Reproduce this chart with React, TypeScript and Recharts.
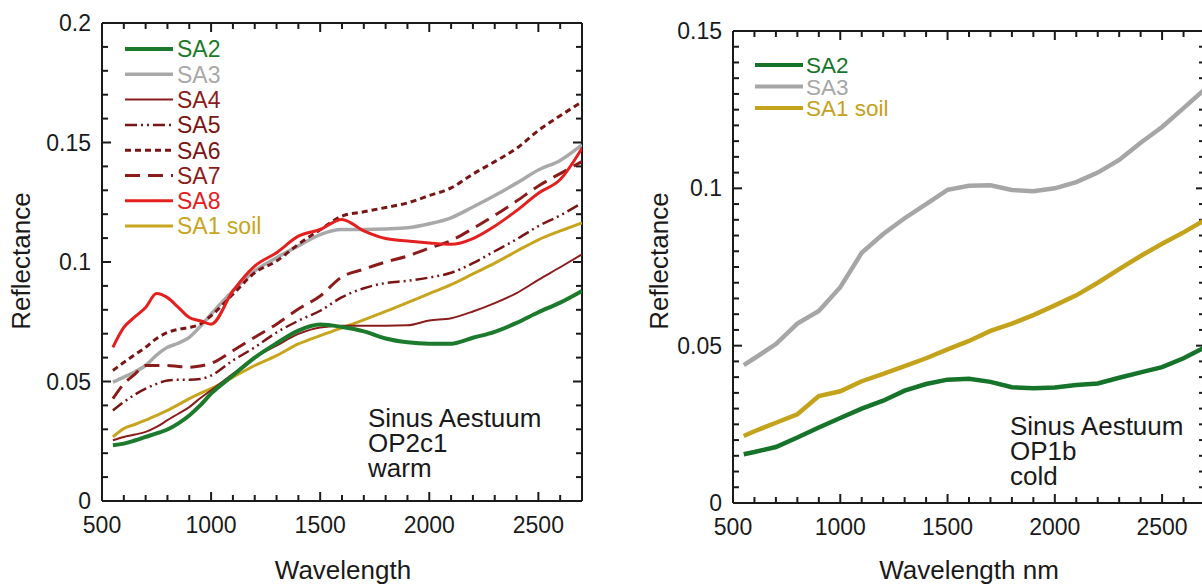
import React from 'react';
import { LineChart, Line, XAxis, YAxis, ReferenceLine } from 'recharts';

// ---------- left panel: Sinus Aestuum OP2c1 warm ----------
const wlWarm = [550, 600, 650, 700, 750, 800, 850, 900, 950, 1000, 1100, 1200, 1300, 1400, 1500, 1600, 1700, 1800, 1900, 2000, 2100, 2200, 2300, 2400, 2500, 2600, 2700];
const sa2Warm = [0.0233, 0.024, 0.0253, 0.0268, 0.0283, 0.0299, 0.0325, 0.0358, 0.040, 0.0449, 0.0525, 0.060, 0.066, 0.0713, 0.0738, 0.0728, 0.071, 0.068, 0.0664, 0.0658, 0.0658, 0.0683, 0.0708, 0.0745, 0.079, 0.083, 0.0879];
const sa3Warm = [0.0497, 0.0518, 0.054, 0.0567, 0.061, 0.0643, 0.066, 0.0685, 0.073, 0.0782, 0.0879, 0.0963, 0.1018, 0.1067, 0.1115, 0.1136, 0.1136, 0.1138, 0.1143, 0.116, 0.1185, 0.123, 0.1278, 0.133, 0.1385, 0.1425, 0.149];
const sa4Warm = [0.0254, 0.0268, 0.0278, 0.0289, 0.031, 0.0338, 0.0365, 0.0393, 0.043, 0.0463, 0.0532, 0.0601, 0.065, 0.0699, 0.0726, 0.0733, 0.0733, 0.0733, 0.0735, 0.0755, 0.0765, 0.0793, 0.0828, 0.087, 0.0925, 0.0978, 0.1032];
const sa5Warm = [0.0379, 0.0414, 0.0445, 0.047, 0.049, 0.0504, 0.0507, 0.0507, 0.051, 0.0525, 0.0588, 0.0643, 0.0705, 0.0754, 0.0796, 0.0853, 0.089, 0.0912, 0.0921, 0.0935, 0.0955, 0.0995, 0.1045, 0.1095, 0.115, 0.1195, 0.1247];
const sa6Warm = [0.0546, 0.058, 0.0612, 0.0643, 0.068, 0.0705, 0.0718, 0.0726, 0.074, 0.0775, 0.0865, 0.0955, 0.1004, 0.1074, 0.1135, 0.1192, 0.121, 0.1228, 0.1247, 0.1278, 0.131, 0.1368, 0.142, 0.1475, 0.155, 0.1612, 0.167];
const sa7Warm = [0.0428, 0.049, 0.053, 0.0567, 0.0567, 0.0567, 0.0563, 0.056, 0.0565, 0.0576, 0.0629, 0.0685, 0.074, 0.0803, 0.0858, 0.0938, 0.097, 0.1, 0.1025, 0.1058, 0.109, 0.114, 0.1195, 0.1255, 0.1318, 0.137, 0.142];
const sa8Warm = [0.0643, 0.0726, 0.077, 0.081, 0.0868, 0.0851, 0.081, 0.0768, 0.0754, 0.074, 0.0879, 0.0983, 0.1039, 0.1108, 0.1136, 0.1178, 0.113, 0.1098, 0.1088, 0.108, 0.1074, 0.1098, 0.115, 0.1215, 0.1288, 0.1345, 0.1476];
const soilWarm = [0.0268, 0.0303, 0.032, 0.0338, 0.0358, 0.0379, 0.0403, 0.0428, 0.045, 0.047, 0.0518, 0.0567, 0.0608, 0.0657, 0.0692, 0.0725, 0.0758, 0.0793, 0.083, 0.0868, 0.0905, 0.095, 0.0995, 0.1045, 0.1093, 0.113, 0.1164];

// ---------- right panel: Sinus Aestuum OP1b cold ----------
const wlCold = [550, 600, 700, 800, 900, 1000, 1100, 1200, 1300, 1400, 1500, 1600, 1700, 1800, 1900, 2000, 2100, 2200, 2300, 2400, 2500, 2600, 2700];
const sa2Cold = [0.0155, 0.0162, 0.0178, 0.0208, 0.024, 0.027, 0.030, 0.0325, 0.0357, 0.0378, 0.0392, 0.0395, 0.0385, 0.0368, 0.0365, 0.0367, 0.0375, 0.038, 0.0398, 0.0415, 0.0432, 0.046, 0.0495];
const sa3Cold = [0.0438, 0.046, 0.0505, 0.057, 0.061, 0.0686, 0.0795, 0.0855, 0.0905, 0.095, 0.0995, 0.1008, 0.101, 0.0995, 0.0991, 0.1, 0.102, 0.105, 0.109, 0.1145, 0.1195, 0.1255, 0.1315];
const soilCold = [0.0213, 0.0228, 0.0255, 0.0282, 0.034, 0.0355, 0.0387, 0.041, 0.0435, 0.046, 0.0488, 0.0515, 0.0547, 0.057, 0.0597, 0.0628, 0.066, 0.070, 0.0743, 0.0785, 0.0824, 0.086, 0.090];

// axis ticks
const xMajor = [500, 1000, 1500, 2000, 2500];
const xLabels = ['500', '1000', '1500', '2000', '2500'];
const xTicks = Array.from({ length: 23 }, (_, i) => 500 + i * 100);
const yMajorWarm = [0, 0.05, 0.1, 0.15, 0.2];
const yLabelsWarm = ['0', '0.05', '0.1', '0.15', '0.2'];
const yTicksWarm = Array.from({ length: 21 }, (_, i) => i / 100);
const yMajorCold = [0, 0.05, 0.1, 0.15];
const yLabelsCold = ['0', '0.05', '0.1', '0.15'];
const yTicksCold = Array.from({ length: 31 }, (_, i) => i / 200);

const FONT = '"Liberation Sans", Arial, Helvetica, sans-serif';
const INK = '#1a1a1a';
const axisStyle = { stroke: INK, strokeWidth: 2 };

const warmRows = wlWarm.map((w, i) => ({
  w, sa2: sa2Warm[i], sa3: sa3Warm[i], sa4: sa4Warm[i], sa5: sa5Warm[i],
  sa6: sa6Warm[i], sa7: sa7Warm[i], sa8: sa8Warm[i], soil: soilWarm[i],
}));
const coldRows = wlCold.map((w, i) => ({ w, sa2: sa2Cold[i], sa3: sa3Cold[i], soil: soilCold[i] }));

const warmSeries = [
  { key: 'sa2', name: 'SA2', color: '#1b7a2c', width: 4, dash: undefined as string | undefined },
  { key: 'sa3', name: 'SA3', color: '#a9a9a9', width: 3.5, dash: undefined },
  { key: 'sa4', name: 'SA4', color: '#8a1c1c', width: 2, dash: undefined },
  { key: 'sa5', name: 'SA5', color: '#7a1515', width: 2.5, dash: '12 4 2 4 2 4' },
  { key: 'sa6', name: 'SA6', color: '#7a1515', width: 3, dash: '6 4' },
  { key: 'sa7', name: 'SA7', color: '#8a1c1c', width: 3, dash: '15 8' },
  { key: 'sa8', name: 'SA8', color: '#e4201f', width: 3, dash: undefined },
  { key: 'soil', name: 'SA1 soil', color: '#c8a51e', width: 3, dash: undefined },
];
const warmDrawOrder = ['sa3', 'sa6', 'sa7', 'sa5', 'soil', 'sa4', 'sa2', 'sa8'];

const coldSeries = [
  { key: 'sa2', name: 'SA2', color: '#16732a', width: 4.5 },
  { key: 'sa3', name: 'SA3', color: '#a6a6a6', width: 4.5 },
  { key: 'soil', name: 'SA1 soil', color: '#c4a21c', width: 4.5 },
];

const majorIndex = (v: number, majors: number[]) => majors.findIndex((m) => Math.abs(m - v) < 1e-9);

// tick labels only (outside the frame)
function labelTick(side: 'bottom' | 'left', majors: number[], labels: string[]) {
  return (props: any) => {
    const { x, y, payload } = props;
    const idx = majorIndex(payload.value, majors);
    if (idx < 0) return <g />;
    return side === 'bottom'
      ? <text x={x} y={y + 32} textAnchor="middle" fill={INK} fontSize={23} fontFamily={FONT}>{labels[idx]}</text>
      : <text x={x - 11} y={y + 8} textAnchor="end" fill={INK} fontSize={23} fontFamily={FONT}>{labels[idx]}</text>;
  };
}

// segments for inward tick marks on all four sides, in data units
type Seg = { id: string; a: { x: number; y: number }; b: { x: number; y: number } };
function tickSegments(x0: number, x1: number, y0: number, y1: number, xpx: number, ypx: number,
  yTicks: number[], yMajor: number[]): Seg[] {
  const out: Seg[] = [];
  xTicks.forEach((t) => {
    const L = (majorIndex(t, xMajor) >= 0 ? 9 : 6) * ypx;
    out.push({ id: 'b' + t, a: { x: t, y: y0 }, b: { x: t, y: y0 + L } });
    out.push({ id: 't' + t, a: { x: t, y: y1 }, b: { x: t, y: y1 - L } });
  });
  yTicks.forEach((v, i) => {
    const L = (majorIndex(v, yMajor) >= 0 ? 9 : 6) * xpx;
    out.push({ id: 'l' + i, a: { x: x0, y: v }, b: { x: x0 + L, y: v } });
    out.push({ id: 'r' + i, a: { x: x1, y: v }, b: { x: x1 - L, y: v } });
  });
  return out;
}

const warmTicks = tickSegments(500, 2700, 0, 0.2, 2200 / 480, 0.2 / 478, yTicksWarm, yMajorWarm);
const coldTicks = tickSegments(500, 2700, 0, 0.15, 2200 / 472, 0.15 / 472, yTicksCold, yMajorCold);

export default function App() {
  const xDomain = [500, 2700];
  return (
    <div style={{ position: 'absolute', left: 0, top: 0, width: 1202, height: 586, overflow: 'hidden', background: '#fff' }}>
      <div style={{ position: 'absolute', left: 0, top: 0 }}>
        <LineChart width={600} height={586} data={warmRows} margin={{ top: 23, right: 18, bottom: 45, left: 0 }}>
          <XAxis dataKey="w" type="number" domain={xDomain} ticks={xTicks} interval={0} height={40} tickSize={0} tickMargin={0}
            tick={labelTick('bottom', xMajor, xLabels)} tickLine={false} axisLine={axisStyle} allowDataOverflow />
          <YAxis type="number" domain={[0, 0.2]} ticks={yTicksWarm} interval={0} width={102} tickSize={0} tickMargin={0}
            tick={labelTick('left', yMajorWarm, yLabelsWarm)} tickLine={false} axisLine={axisStyle} allowDataOverflow />
          <ReferenceLine y={0.2} stroke={INK} strokeWidth={2} ifOverflow="visible" />
          <ReferenceLine x={2700} stroke={INK} strokeWidth={2} ifOverflow="visible" />
          {warmTicks.map((s) => (
            <ReferenceLine key={s.id} segment={[s.a, s.b]} stroke={INK} strokeWidth={2} ifOverflow="visible" />
          ))}
          {warmDrawOrder.map((k) => {
            const s = warmSeries.find((d) => d.key === k)!;
            return (
              <Line key={k} dataKey={k} type="monotone" stroke={s.color} strokeWidth={s.width} strokeDasharray={s.dash}
                dot={false} activeDot={false} isAnimationActive={false} />
            );
          })}
        </LineChart>
      </div>

      <div style={{ position: 'absolute', left: 620, top: 0 }}>
        <LineChart width={590} height={586} data={coldRows} margin={{ top: 31, right: 5, bottom: 43, left: 0 }}>
          <XAxis dataKey="w" type="number" domain={xDomain} ticks={xTicks} interval={0} height={40} tickSize={0} tickMargin={0}
            tick={labelTick('bottom', xMajor, xLabels)} tickLine={false} axisLine={axisStyle} allowDataOverflow />
          <YAxis type="number" domain={[0, 0.15]} ticks={yTicksCold} interval={0} width={113} tickSize={0} tickMargin={0}
            tick={labelTick('left', yMajorCold, yLabelsCold)} tickLine={false} axisLine={axisStyle} allowDataOverflow />
          <ReferenceLine y={0.15} stroke={INK} strokeWidth={2} ifOverflow="visible" />
          <ReferenceLine x={2700} stroke={INK} strokeWidth={2} ifOverflow="visible" />
          {coldTicks.map((s) => (
            <ReferenceLine key={s.id} segment={[s.a, s.b]} stroke={INK} strokeWidth={2} ifOverflow="visible" />
          ))}
          {coldSeries.map((s) => (
            <Line key={s.key} dataKey={s.key} type="linear" stroke={s.color} strokeWidth={s.width}
              dot={false} activeDot={false} isAnimationActive={false} />
          ))}
        </LineChart>
      </div>

      <svg width={1202} height={586} style={{ position: 'absolute', left: 0, top: 0, pointerEvents: 'none' }} fontFamily={FONT}>
        {/* legends */}
        {warmSeries.map((s, i) => {
          const cy = 49 + i * 25.3;
          return (
            <g key={s.key}>
              <line x1={125} x2={173} y1={cy} y2={cy} stroke={s.color} strokeWidth={s.width} strokeDasharray={s.dash} />
              <text x={177} y={cy + 8.3} fontSize={23} fill={s.color}>{s.name}</text>
            </g>
          );
        })}
        {coldSeries.map((s, i) => {
          const cy = 65 + i * 21.5;
          return (
            <g key={s.key}>
              <line x1={755} x2={803} y1={cy} y2={cy} stroke={s.color} strokeWidth={4} />
              <text x={806} y={cy + 8} fontSize={22.5} fill={s.color}>{s.name}</text>
            </g>
          );
        })}

        {/* annotations */}
        <text fontSize={26} fill={INK}>
          <tspan x={368} y={427}>Sinus Aestuum</tspan>
          <tspan x={368} y={452}>OP2c1</tspan>
          <tspan x={368} y={477}>warm</tspan>
        </text>
        <text fontSize={26} fill={INK}>
          <tspan x={1010} y={435}>Sinus Aestuum</tspan>
          <tspan x={1010} y={460}>OP1b</tspan>
          <tspan x={1010} y={485}>cold</tspan>
        </text>

        {/* axis titles */}
        <text x={343} y={579} fontSize={26} fill={INK} textAnchor="middle">Wavelength</text>
        <text x={969} y={579} fontSize={26} fill={INK} textAnchor="middle">Wavelength nm</text>
        <text transform="translate(30 261) rotate(-90)" fontSize={26} fill={INK} textAnchor="middle">Reflectance</text>
        <text transform="translate(668 261) rotate(-90)" fontSize={26} fill={INK} textAnchor="middle">Reflectance</text>
      </svg>
    </div>
  );
}
